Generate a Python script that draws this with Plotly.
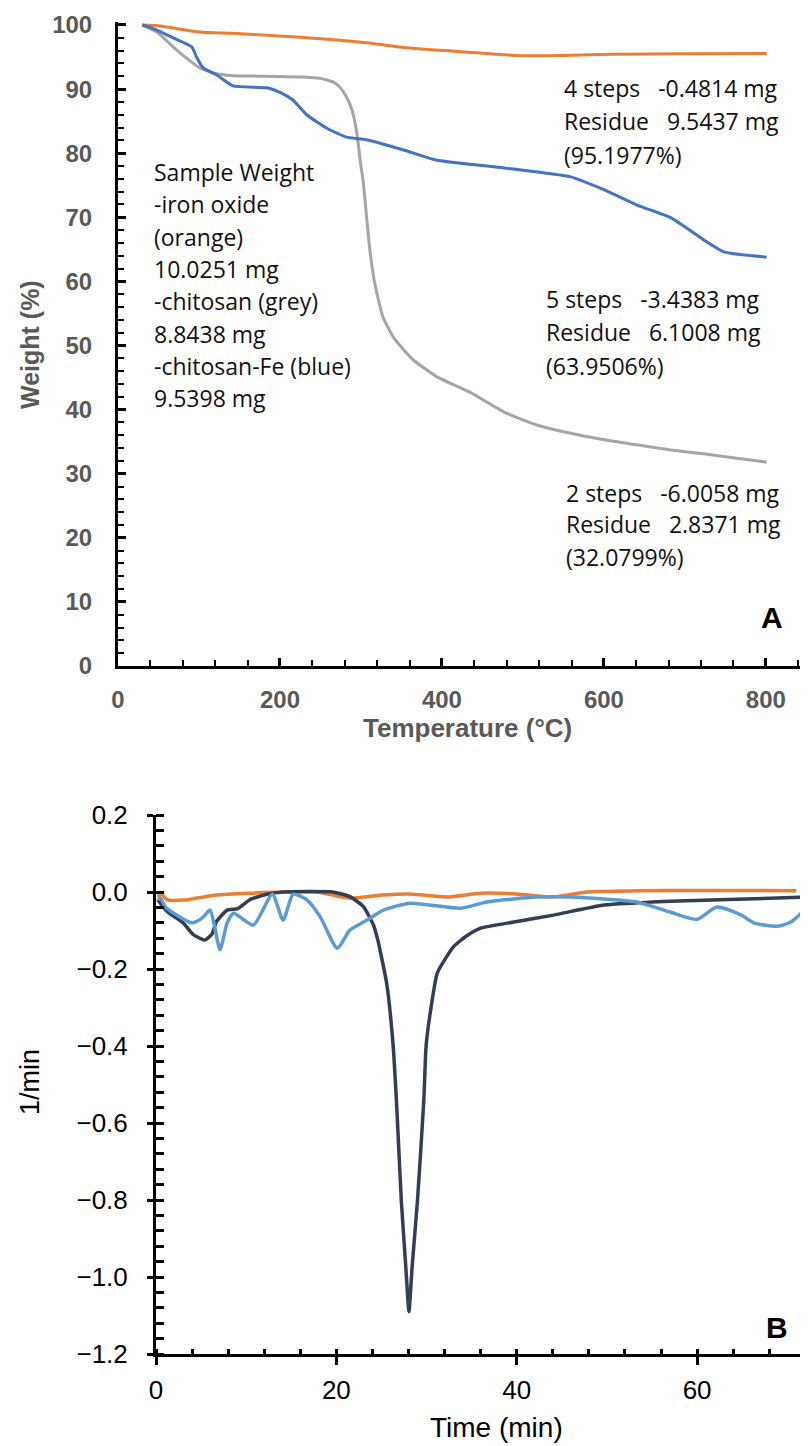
import plotly.graph_objects as go

# the page places the figure 8 px in from the top-left corner
OFF = 8
W, H = 808 - OFF, 1446 - OFF

# ---------------- Panel A data (TGA) ----------------
iron_T = [30, 50, 70, 101, 140, 184, 225, 266, 310, 353, 415, 460, 489, 550, 612, 700, 801]
iron_W = [100, 99.9, 99.5, 98.9, 98.7, 98.4, 98.1, 97.7, 97.2, 96.5, 95.9, 95.5, 95.25, 95.25, 95.45, 95.5, 95.55]

chit_T = [30, 48, 68, 85, 101, 122, 142, 184, 225, 249, 266, 274, 282, 289, 295, 299, 303,
          307, 311, 317, 327, 340, 353, 365, 394, 436, 477, 517, 559, 600, 641, 683, 723, 764, 801]
chit_W = [100, 98.9, 96.6, 94.8, 93.3, 92.4, 92.1, 92.0, 91.9, 91.7, 91.1, 90.3, 88.8, 86.7, 83.1, 78.9, 75.3,
          70.0, 64.9, 59.7, 54.5, 51.3, 49.3, 47.7, 45.1, 42.6, 39.6, 37.6, 36.3, 35.3, 34.5, 33.7, 33.1, 32.4, 31.8]

chfe_T = [30, 48, 68, 91, 97, 105, 122, 142, 184, 200, 216, 233, 258, 282, 307, 353, 394, 477,
          559, 600, 641, 683, 723, 748, 801]
chfe_W = [100, 99.2, 98.0, 96.6, 95.0, 93.3, 92.2, 90.5, 90.2, 89.5, 88.3, 86.0, 83.9, 82.5, 82.1, 80.5, 78.9, 77.7,
          76.3, 74.3, 71.9, 69.9, 66.5, 64.6, 63.8]

# ---------------- Panel B data (DTG) ----------------
iron_t = [0.2, 0.6, 1.2, 3, 6.7, 10.4, 14, 17.8, 21.5, 25, 28, 32.3, 36, 40, 44, 47.8, 53.3, 60, 66, 71]
iron_d = [-0.013, -0.005, -0.02, -0.021, -0.008, -0.003, 0, 0, -0.016, -0.008, -0.005, -0.013, -0.003,
          -0.005, -0.013, 0, 0.003, 0.004, 0.004, 0.003]

chit_t = [0.2, 1.2, 3, 4.1, 5.4, 6.2, 6.7, 7.9, 9.1, 10.4, 12.3, 14.1, 19.6, 21.5, 23, 24.1, 24.6,
          25.6, 26.3, 26.7, 27.2, 27.7, 28.05, 28.4, 29.0, 29.7, 29.95, 30.5, 31.2, 33, 34.5, 36, 39.7, 44.1,
          49.7, 57, 64.4, 72.3]
chit_d = [-0.02, -0.05, -0.08, -0.11, -0.125, -0.11, -0.077, -0.047, -0.043, -0.02, -0.006, 0, 0, -0.012,
          -0.038, -0.085, -0.125, -0.24, -0.40, -0.56, -0.80, -0.974, -1.09, -0.974, -0.80, -0.54,
          -0.40, -0.30, -0.21, -0.142, -0.113, -0.094, -0.078, -0.06, -0.034, -0.024, -0.019, -0.013]

chfe_t = [0.2, 0.5, 1, 2.3, 4, 5.1, 6, 6.5, 7.1, 7.9, 8.6, 10.8, 12.9, 14.1, 15.2, 16.7, 18.2, 20.1, 21.5,
          23.4, 25.2, 28.2, 33.8, 36.7, 42.2, 46, 53.3, 57, 60, 62.2, 64.9, 66.3, 68.9, 70.4, 72.3]
chfe_d = [-0.02, -0.016, -0.038, -0.06, -0.08, -0.068, -0.047, -0.09, -0.15, -0.08, -0.055, -0.086, -0.006,
          -0.073, -0.006, -0.02, -0.064, -0.146, -0.099, -0.073, -0.047, -0.029, -0.042, -0.026, -0.013,
          -0.013, -0.026, -0.052, -0.071, -0.039, -0.06, -0.08, -0.089, -0.078, -0.038]

xA_ticks = [0, 200, 400, 600, 800]
yA_ticks = [0, 10, 20, 30, 40, 50, 60, 70, 80, 90, 100]
xB_ticks = [0, 20, 40, 60]
yB_ticks = [-1.2, -1.0, -0.8, -0.6, -0.4, -0.2, 0.0, 0.2]
yB_labels = ["\u22121.2", "\u22121.0", "\u22120.8", "\u22120.6", "\u22120.4", "\u22120.2", "0.0", "0.2"]


def px(x):
    return (x - OFF) / W


def py(y):
    return 1 - (y - OFF) / H


fig = go.Figure()

fig.add_trace(go.Scatter(x=iron_T, y=iron_W, mode="lines", line=dict(color="#ED7D31", width=3, shape="spline", smoothing=0.5),
                         xaxis="x", yaxis="y", showlegend=False))
fig.add_trace(go.Scatter(x=chit_T, y=chit_W, mode="lines", line=dict(color="#A5A5A5", width=3, shape="spline", smoothing=0.5),
                         xaxis="x", yaxis="y", showlegend=False))
fig.add_trace(go.Scatter(x=chfe_T, y=chfe_W, mode="lines", line=dict(color="#4472C4", width=3, shape="spline", smoothing=0.5),
                         xaxis="x", yaxis="y", showlegend=False))

fig.add_trace(go.Scatter(x=iron_t, y=iron_d, mode="lines", line=dict(color="#ED7D31", width=3.5, shape="spline", smoothing=0.6),
                         xaxis="x2", yaxis="y2", showlegend=False))
fig.add_trace(go.Scatter(x=chit_t, y=chit_d, mode="lines", line=dict(color="#333F50", width=3.5, shape="spline", smoothing=0.5),
                         xaxis="x2", yaxis="y2", showlegend=False))
fig.add_trace(go.Scatter(x=chfe_t, y=chfe_d, mode="lines", line=dict(color="#5B9BD5", width=3.5, shape="spline", smoothing=0.6),
                         xaxis="x2", yaxis="y2", showlegend=False))
# carrier for the inner half of the crossing ticks in panel B
fig.add_trace(go.Scatter(x=[None], y=[None], mode="lines", xaxis="x3", yaxis="y3", showlegend=False, hoverinfo="skip"))

boldgrey = dict(family="Liberation Sans", size=24, color="#595959", weight="bold")
tickB = dict(family="Liberation Sans", size=26, color="black")

yA_top = 25 - 0.4 * 6.41
fig.update_layout(
    width=W, height=H,
    margin=dict(l=0, r=0, t=0, b=0),
    paper_bgcolor="white", plot_bgcolor="white",
    xaxis=dict(domain=[px(118), 1], range=[0, 852], anchor="y", type="linear", automargin=False,
               tickvals=xA_ticks, ticktext=[str(v) for v in xA_ticks],
               ticks="inside", ticklen=8, tickwidth=2.5, tickcolor="black",
               minor=dict(dtick=40, tick0=0, ticks="inside", ticklen=6, tickwidth=2, tickcolor="black", showgrid=False),
               showline=True, linecolor="black", linewidth=3, showgrid=False, zeroline=False,
               tickfont=boldgrey, ticklabelstandoff=10),
    yaxis=dict(domain=[py(666), py(yA_top)], range=[0, 100.4], anchor="x", type="linear", automargin=False,
               tickvals=yA_ticks, ticktext=[str(v) for v in yA_ticks],
               ticks="inside", ticklen=8, tickwidth=2.5, tickcolor="black",
               minor=dict(dtick=2, tick0=0, ticks="inside", ticklen=6, tickwidth=2, tickcolor="black", showgrid=False),
               showline=True, linecolor="black", linewidth=3, showgrid=False, zeroline=False,
               tickfont=boldgrey, ticklabelstandoff=18),
    xaxis2=dict(domain=[px(156), 1], range=[0, 72.3], anchor="y2", type="linear", automargin=False,
                tickvals=xB_ticks, ticktext=[str(v) for v in xB_ticks],
                ticks="outside", ticklen=8, tickwidth=2.5, tickcolor="black",
                minor=dict(dtick=4, tick0=0, ticks="inside", ticklen=5, tickwidth=2.5, tickcolor="black", showgrid=False),
                showline=True, linecolor="black", linewidth=3, showgrid=False, zeroline=False,
                tickfont=tickB, ticklabelstandoff=3),
    yaxis2=dict(domain=[py(1354), py(815)], range=[-1.2, 0.2], anchor="x2", type="linear", automargin=False,
                tickvals=yB_ticks, ticktext=yB_labels,
                ticks="outside", ticklen=6, tickwidth=2.5, tickcolor="black",
                minor=dict(dtick=0.04, tick0=0, ticks="inside", ticklen=8, tickwidth=2.5, tickcolor="black", showgrid=False),
                showline=True, linecolor="black", linewidth=3, showgrid=False, zeroline=False,
                tickfont=tickB, ticklabelstandoff=14),
    xaxis3=dict(overlaying="x2", range=[0, 72.3], anchor="y3", type="linear", side="bottom", automargin=False,
                tickvals=xB_ticks, showticklabels=False,
                ticks="inside", ticklen=5, tickwidth=2.5, tickcolor="black",
                showline=False, showgrid=False, zeroline=False),
    yaxis3=dict(overlaying="y2", range=[-1.2, 0.2], anchor="x3", type="linear", side="left", automargin=False,
                tickvals=yB_ticks, showticklabels=False,
                ticks="inside", ticklen=8, tickwidth=2.5, tickcolor="black",
                showline=False, showgrid=False, zeroline=False),
)

ann_font = dict(family="Open Sans", size=23, color="#111111")
nb = "\u00a0\u00a0\u00a0"
blocks = [
    (152, [172, 204, 237, 269, 301, 334, 366, 398],
     ["Sample Weight", "-iron oxide", "(orange)", "10.0251 mg", "-chitosan (grey)", "8.8438 mg",
      "-chitosan-Fe (blue)", "9.5398 mg"]),
    (562, [88, 121, 155], ["4 steps" + nb + "-0.4814 mg", "Residue" + nb + "9.5437 mg", "(95.1977%)"]),
    (544, [299, 332, 366], ["5 steps" + nb + "-3.4383 mg", "Residue" + nb + "6.1008 mg", "(63.9506%)"]),
    (564, [493, 524, 557], ["2 steps" + nb + "-6.0058 mg", "Residue" + nb + "2.8371 mg", "(32.0799%)"]),
]
for x0, ys, texts in blocks:
    for yy, tt in zip(ys, texts):
        fig.add_annotation(x=px(x0), y=py(yy), xref="paper", yref="paper", text=tt, showarrow=False,
                           xanchor="left", yanchor="middle", font=ann_font)

# axis titles and panel letters
fig.add_annotation(x=px(30), y=py(345), xref="paper", yref="paper", text="Weight (%)", textangle=-90,
                   showarrow=False, xanchor="center", yanchor="middle",
                   font=dict(family="Liberation Sans", size=25, color="#595959", weight="bold"))
fig.add_annotation(x=px(468), y=py(728), xref="paper", yref="paper", text="Temperature (\u00b0C)",
                   showarrow=False, xanchor="center", yanchor="middle",
                   font=dict(family="Liberation Sans", size=26, color="#595959", weight="bold"))
fig.add_annotation(x=px(772), y=py(618), xref="paper", yref="paper", text="A", showarrow=False,
                   xanchor="center", yanchor="middle",
                   font=dict(family="Liberation Sans", size=30, color="black", weight="bold"))
fig.add_annotation(x=px(30), y=py(1082), xref="paper", yref="paper", text="1/min", textangle=-90,
                   showarrow=False, xanchor="center", yanchor="middle",
                   font=dict(family="Liberation Sans", size=27, color="black"))
fig.add_annotation(x=px(496), y=py(1427), xref="paper", yref="paper", text="Time (min)",
                   showarrow=False, xanchor="center", yanchor="middle",
                   font=dict(family="Liberation Sans", size=28, color="black"))
fig.add_annotation(x=px(777), y=py(1327), xref="paper", yref="paper", text="B", showarrow=False,
                   xanchor="center", yanchor="middle",
                   font=dict(family="Liberation Sans", size=30, color="black", weight="bold"))

fig.write_html("out.html")
